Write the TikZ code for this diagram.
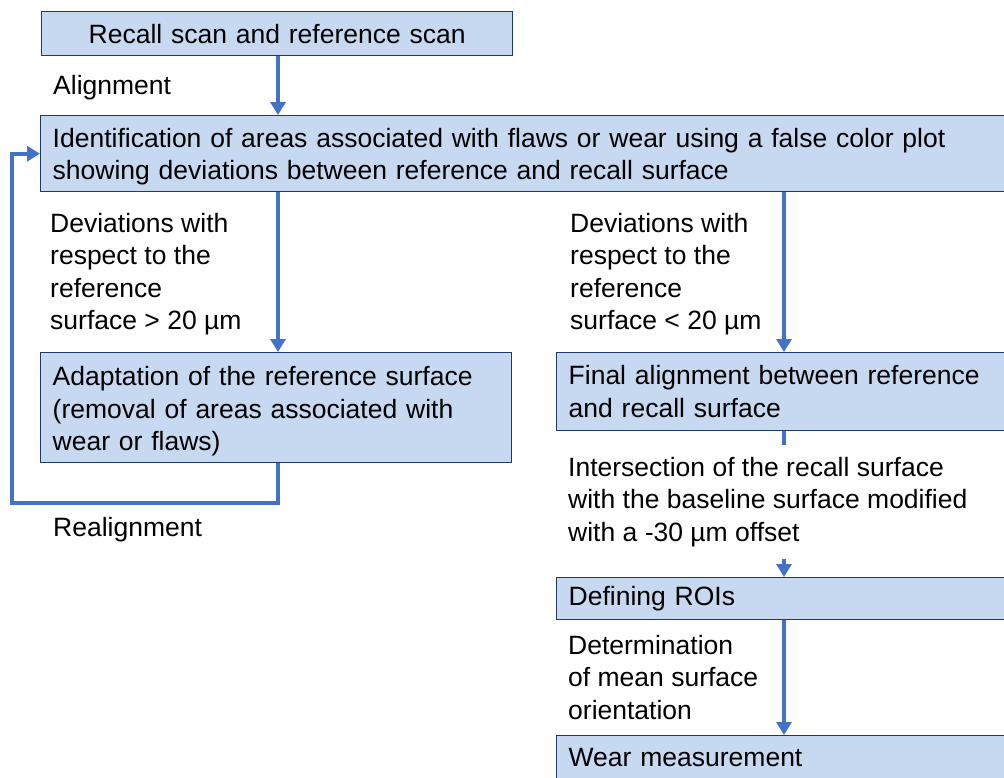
\documentclass[tikz,border=0pt]{standalone}
\usepackage{fontspec}
\setmainfont{Liberation Sans}
\usetikzlibrary{arrows.meta}
\definecolor{boxfill}{RGB}{198,217,240}
\definecolor{boxline}{RGB}{31,56,100}
\definecolor{flow}{RGB}{68,114,196}

\begin{document}
\begin{tikzpicture}[x=1pt, y=-1pt,
                    box/.style = {draw=boxline, line width=1.4pt, fill=boxfill, anchor=north west,
                                  inner xsep=12pt, inner ysep=0pt, align=left,
                                  font=\fontsize{26.5}{32.5}\selectfont},
                    lbl/.style = {anchor=base west, inner xsep=0pt, align=left,
                                  font=\fontsize{26.5}{32.5}\selectfont},
                    flowarrow/.style = {draw=flow, line width=4pt, -{Triangle[width=15pt,length=13pt]}}]
                    \useasboundingbox (0,0) rectangle (1004,777);
                    \clip (0,0) rectangle (1004,777);

                    \node[box, align=center, text width=447pt, minimum height=44pt] (scan) at (41,11) {Recall scan and reference scan};
                    \node[box, text width=966pt, minimum height=76pt] (ident) at (40,115)
                        {\rule{0pt}{25pt}Identification of areas associated with flaws or wear using a false color plot\\
                         showing deviations between reference and recall surface};
                    \node[box, text width=447pt, minimum height=110pt] (adapt) at (40,352)
                        {\rule{0pt}{27pt}Adaptation of the reference surface\\(removal of areas associated with\\wear or flaws)};
                    \node[box, text width=450pt, minimum height=78pt] (final) at (556,352)
                        {Final alignment between reference\\and recall surface};
                    \node[box, text width=450pt, minimum height=42pt] (rois) at (556,577) {Defining ROIs};
                    \node[box, text width=450pt, minimum height=44pt] (wear) at (556,735) {Wear measurement};

                    % base = last line of each label
                    \node[lbl] (align) at (53,94) {Alignment};
                    \node[lbl] (devgt) at (50,329.5) {Deviations with\\respect to the\\reference\\surface > 20 µm};
                    \node[lbl] (devlt) at (570,329.5) {Deviations with\\respect to the\\reference\\surface < 20 µm};
                    \node[lbl] (realign) at (53,536) {Realignment};
                    \node[lbl, inner ysep=12pt] (isect) at (568,541)
                        {Intersection of the recall surface\\with the baseline surface modified\\with a -30 µm offset};
                    \node[lbl] (orient) at (568,719) {Determination\\of mean surface\\orientation};

                    \coordinate (lx) at (278,0);
                    \coordinate (rx) at (784,0);

                    \path[flowarrow] (scan.south -| lx) -- (ident.north -| lx);
                    \path[flowarrow] (ident.south -| lx) -- (adapt.north -| lx);
                    \path[flowarrow] (ident.south -| rx) -- (final.north -| rx);
                    \path[draw=flow, line width=4pt] (final.south -| rx) -- (isect.north -| rx);
                    \path[flowarrow] (isect.south -| rx) -- (rois.north -| rx);
                    \path[flowarrow] (rois.south -| rx) -- (wear.north -| rx);
                    \path[flowarrow] (adapt.south -| lx) -- ++(0,40) -| ([xshift=-28pt]ident.west) -- (ident.west);
                \end{tikzpicture}
\end{document}
